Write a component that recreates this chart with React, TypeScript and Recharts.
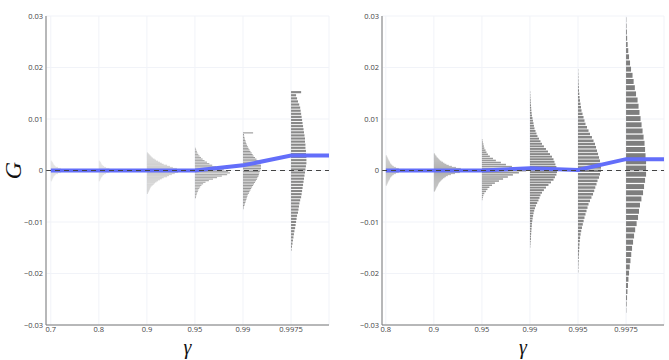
import {
  CartesianGrid,
  ComposedChart,
  Line,
  ReferenceArea,
  ReferenceLine,
  XAxis,
  YAxis,
} from "recharts";

const Y_TICKS = [-0.03, -0.02, -0.01, 0, 0.01, 0.02, 0.03];
const X_TICKS = [0, 1, 2, 3, 4, 5];
const X_MAX = 5.79;

const LEFT_GAMMAS = ["0.7", "0.8", "0.9", "0.95", "0.99", "0.9975"];
const RIGHT_GAMMAS = ["0.8", "0.9", "0.95", "0.99", "0.995", "0.9975"];

// median G per gamma (blue line)
const LEFT_MEDIAN = [0, 0, 0, 0, 0.001, 0.0029];
const RIGHT_MEDIAN = [0, 0, 0, 0.00045, 0.0001, 0.0022];

// histogram bins: lowest edge, bin height, bar lengths (1 = gap between categories)
const LEFT_BIN_LO = [-0.0021, -0.0021, -0.0045, -0.0054, -0.0075, -0.0156];
const LEFT_BIN_STEP = [0.0002, 0.0002, 0.0002, 0.0003, 0.0003, 0.0006];
const RIGHT_BIN_LO = [-0.0029, -0.0041, -0.0058, -0.015, -0.0198, -0.0276];
const RIGHT_BIN_STEP = [0.0002, 0.0002, 0.0004, 0.0005, 0.00065, 0.0012];

const L_070 = [0.02, 0.03, 0.04, 0.05, 0.06, 0.08, 0.1, 0.15, 0.21, 0.31, 0.46, 0.31, 0.21, 0.15, 0.1, 0.08, 0.06, 0.05, 0.04, 0.02];
const L_080 = [0.02, 0.03, 0.04, 0.05, 0.07, 0.08, 0.11, 0.15, 0.22, 0.32, 0.48, 0.32, 0.22, 0.15, 0.11, 0.08, 0.06, 0.05, 0.04, 0.02];
const L_090 = [0.02, 0.03, 0.04, 0.05, 0.06, 0.07, 0.08, 0.1, 0.125, 0.15, 0.17, 0.2, 0.23, 0.27, 0.31, 0.35, 0.42, 0.46, 0.52, 0.58, 0.65, 0.69, 0.71, 0.67, 0.625, 0.54, 0.48, 0.42, 0.35, 0.31, 0.27, 0.23, 0.19, 0.16, 0.125, 0.1, 0.08, 0.06, 0.04, 0.02];
const L_095 = [0.02, 0.025, 0.035, 0.045, 0.06, 0.07, 0.09, 0.11, 0.135, 0.17, 0.22, 0.29, 0.375, 0.46, 0.56, 0.67, 0.73, 0.69, 0.6, 0.52, 0.44, 0.36, 0.3, 0.25, 0.2, 0.16, 0.125, 0.095, 0.07, 0.05, 0.04, 0.025, 0.017];
const L_099 = [0.01, 0.02, 0.03, 0.04, 0.05, 0.06, 0.07, 0.08, 0.09, 0.1, 0.125, 0.135, 0.155, 0.17, 0.19, 0.21, 0.23, 0.25, 0.27, 0.29, 0.3, 0.32, 0.33, 0.34, 0.35, 0.365, 0.375, 0.375, 0.375, 0.365, 0.34, 0.31, 0.28, 0.25, 0.22, 0.2, 0.18, 0.155, 0.135, 0.115, 0.1, 0.085, 0.07, 0.06, 0.05, 0.04, 0.03, 0.025, 0.02, 0.21];
const L_09975 = [0.01, 0.02, 0.03, 0.04, 0.05, 0.06, 0.07, 0.085, 0.095, 0.105, 0.115, 0.125, 0.145, 0.155, 0.165, 0.175, 0.19, 0.21, 0.22, 0.23, 0.24, 0.25, 0.26, 0.27, 0.28, 0.29, 0.3, 0.31, 0.32, 0.32, 0.32, 0.31, 0.31, 0.3, 0.3, 0.29, 0.29, 0.28, 0.27, 0.26, 0.25, 0.24, 0.23, 0.22, 0.21, 0.2, 0.19, 0.17, 0.145, 0.125, 0.105, 0.21];

const R_080 = [0.02, 0.03, 0.04, 0.05, 0.06, 0.075, 0.085, 0.095, 0.115, 0.135, 0.165, 0.21, 0.27, 0.375, 0.58, 0.375, 0.27, 0.21, 0.165, 0.135, 0.115, 0.095, 0.085, 0.075, 0.06, 0.05, 0.04, 0.03, 0.02];
const R_090 = [0.02, 0.03, 0.04, 0.05, 0.06, 0.075, 0.085, 0.095, 0.105, 0.125, 0.145, 0.165, 0.19, 0.22, 0.25, 0.29, 0.355, 0.44, 0.54, 0.67, 0.77, 0.69, 0.56, 0.46, 0.375, 0.31, 0.26, 0.22, 0.19, 0.155, 0.125, 0.105, 0.085, 0.06, 0.05, 0.03, 0.02];
const R_095 = [0.01, 0.02, 0.03, 0.05, 0.085, 0.115, 0.155, 0.21, 0.27, 0.355, 0.44, 0.54, 0.645, 0.77, 0.92, 0.79, 0.625, 0.5, 0.395, 0.29, 0.23, 0.165, 0.125, 0.095, 0.075, 0.05, 0.04, 0.03, 0.02, 0.01];
const R_099 = [0.006, 0.01, 0.015, 0.019, 0.021, 0.025, 0.029, 0.033, 0.038, 0.042, 0.048, 0.056, 0.065, 0.075, 0.0875, 0.104, 0.125, 0.15, 0.177, 0.198, 0.219, 0.25, 0.29, 0.333, 0.385, 0.4375, 0.49, 0.52, 0.55, 0.5625, 0.5625, 0.55, 0.53, 0.51, 0.49, 0.458, 0.417, 0.375, 0.333, 0.29, 0.25, 0.219, 0.1875, 0.156, 0.135, 0.115, 0.094, 0.083, 0.073, 0.0625, 0.052, 0.042, 0.035, 0.029, 0.025, 0.021, 0.017, 0.0125, 0.01, 0.008, 0.006];
const R_0995 = [0.006, 0.008, 0.01, 0.0125, 0.015, 0.019, 0.023, 0.027, 0.031, 0.0375, 0.044, 0.054, 0.067, 0.083, 0.1, 0.117, 0.135, 0.156, 0.177, 0.198, 0.219, 0.25, 0.28, 0.3125, 0.3375, 0.36, 0.385, 0.406, 0.4375, 0.458, 0.479, 0.479, 0.469, 0.458, 0.4375, 0.417, 0.396, 0.375, 0.354, 0.323, 0.29, 0.25, 0.219, 0.1875, 0.156, 0.135, 0.115, 0.094, 0.073, 0.0625, 0.052, 0.042, 0.033, 0.027, 0.021, 0.017, 0.0125, 0.01, 0.008, 0.006, 0.004];
const R_09975 = [0.006, 0.0125, 0.021, 0.029, 0.04, 0.05, 0.0625, 0.077, 0.092, 0.108, 0.125, 0.146, 0.167, 0.19, 0.22, 0.25, 0.27, 0.29, 0.32, 0.354, 0.375, 0.396, 0.417, 0.417, 0.417, 0.406, 0.396, 0.385, 0.365, 0.344, 0.323, 0.302, 0.28, 0.26, 0.24, 0.208, 0.183, 0.158, 0.135, 0.104, 0.083, 0.0625, 0.046, 0.033, 0.023, 0.017, 0.01, 0.006];

const LEFT_HISTS = [L_070, L_080, L_090, L_095, L_099, L_09975];
const RIGHT_HISTS = [R_080, R_090, R_095, R_099, R_0995, R_09975];

const LEFT_FILLS = ["#e0e0e0", "#e0e0e0", "#cbcbcb", "#acacac", "#959595", "#888888"];
const RIGHT_FILLS = ["#c0c0c0", "#adadad", "#999999", "#888888", "#858585", "#7e7e7e"];
const LEFT_GAPS = [0, 0, 0, 0.2, 0.3, 0.3];
const RIGHT_GAPS = [0, 0, 0.25, 0.25, 0.25, 0.2];

const TICK_STYLE = { fontSize: 7.5, fill: "#444", fontFamily: "Open Sans" };

const fmtY = (v: number) =>
  v === 0 ? "0" : v < 0 ? "\u2212" + Math.abs(v).toFixed(2) : v.toFixed(2);

type PanelProps = {
  gammas: string[];
  median: number[];
  binLo: number[];
  binStep: number[];
  hists: number[][];
  fills: string[];
  gaps: number[];
  xMin: number;
  axisW: number;
  width: number;
  right: number;
  yLabel?: string;
};

function Panel(p: PanelProps) {
  const lineData = p.median.map((g, i) => ({ x: i, g }));
  lineData.push({ x: X_MAX, g: p.median[p.median.length - 1] });

  return (
    <ComposedChart
      width={p.width}
      height={360}
      data={lineData}
      margin={{ top: 16, right: p.right, left: 0, bottom: 0 }}
    >
      <CartesianGrid stroke="#f1f3f8" />
      <XAxis
        dataKey="x"
        type="number"
        domain={[p.xMin, X_MAX]}
        ticks={X_TICKS}
        tickFormatter={(i: number) => p.gammas[i]}
        allowDataOverflow
        height={35}
        tickSize={0}
        tickMargin={2}
        tick={TICK_STYLE}
        axisLine={{ stroke: "#777" }}
        label={{
          value: "\u03b3",
          position: "insideBottom",
          offset: 6,
          style: { fontSize: 20, fontStyle: "italic", fontFamily: "Liberation Serif", fill: "#111" },
        }}
      />
      <YAxis
        type="number"
        domain={[-0.03, 0.03]}
        ticks={Y_TICKS}
        tickFormatter={fmtY}
        allowDataOverflow
        width={p.axisW}
        tickSize={0}
        tickMargin={3}
        tick={TICK_STYLE}
        axisLine={{ stroke: "#777" }}
        label={
          p.yLabel
            ? {
                value: p.yLabel,
                angle: -90,
                position: "insideLeft",
                offset: 12,
                style: { fontSize: 24, fontStyle: "italic", fontFamily: "Liberation Serif", fill: "#111", textAnchor: "middle" },
              }
            : undefined
        }
      />
      {p.hists.map((w, k) =>
        w.map((len, i) => (
          <ReferenceArea
            key={`${k}-${i}`}
            x1={k}
            x2={k + len}
            y1={p.binLo[k] + i * p.binStep[k]}
            y2={p.binLo[k] + (i + 1 - p.gaps[k]) * p.binStep[k]}
            fill={p.fills[k]}
            fillOpacity={1}
            stroke="none"
            ifOverflow="hidden"
          />
        ))
      )}
      <Line
        type="linear"
        dataKey="g"
        stroke="#636efa"
        strokeWidth={4}
        dot={false}
        isAnimationActive={false}
      />
      <ReferenceLine y={0} stroke="#444" strokeDasharray="5 4" />
    </ComposedChart>
  );
}

export default function App() {
  return (
    <div style={{ position: "absolute", left: 0, top: 0, width: 669, height: 360, background: "#fff" }}>
      <div style={{ position: "absolute", left: 0, top: 0 }}>
        <Panel
          gammas={LEFT_GAMMAS}
          median={LEFT_MEDIAN}
          binLo={LEFT_BIN_LO}
          binStep={LEFT_BIN_STEP}
          hists={LEFT_HISTS}
          fills={LEFT_FILLS}
          gaps={LEFT_GAPS}
          xMin={-0.1}
          axisW={46}
          width={335}
          right={6}
          yLabel="G"
        />
      </div>
      <div style={{ position: "absolute", left: 335, top: 0 }}>
        <Panel
          gammas={RIGHT_GAMMAS}
          median={RIGHT_MEDIAN}
          binLo={RIGHT_BIN_LO}
          binStep={RIGHT_BIN_STEP}
          hists={RIGHT_HISTS}
          fills={RIGHT_FILLS}
          gaps={RIGHT_GAPS}
          xMin={-0.08}
          axisW={47}
          width={334}
          right={5}
        />
      </div>
    </div>
  );
}
